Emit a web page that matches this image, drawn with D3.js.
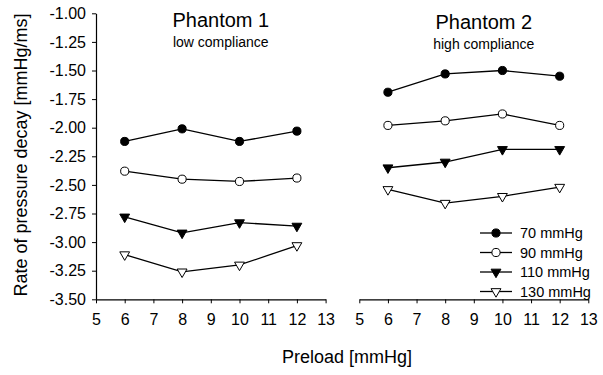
<!DOCTYPE html>
<html>
<head>
<meta charset="utf-8">
<script src="https://cdn.jsdelivr.net/npm/d3@7"></script>
<style>
  body { margin: 0; background: #fff; }
  text { font-family: "Liberation Sans", Arial, sans-serif; fill: #000; }
</style>
</head>
<body>
<div class="chart"></div>
<script>
// data
const preload = [6, 8, 10, 12]
const seriesNames = ['70 mmHg', '90 mmHg', '110 mmHg', '130 mmHg']

const phantom1 = [
  [-2.12, -2.01, -2.12, -2.03],
  [-2.38, -2.45, -2.47, -2.44],
  [-2.78, -2.92, -2.83, -2.86],
  [-3.11, -3.26, -3.20, -3.03]
]
const phantom2 = [
  [-1.69, -1.53, -1.50, -1.55],
  [-1.98, -1.94, -1.88, -1.98],
  [-2.35, -2.30, -2.19, -2.19],
  [-2.54, -2.66, -2.60, -2.52]
]
const yTicks = [-1.00, -1.25, -1.50, -1.75, -2.00, -2.25, -2.50, -2.75, -3.00, -3.25, -3.50]
const xTicks = [5, 6, 7, 8, 9, 10, 11, 12, 13]

const width = 603, height = 375

const svg = d3.select(".chart")
  .append("svg")
    .attr("width", width)
    .attr("height", height)

const y = d3.scaleLinear().domain([-3.5, -1]).range([299.3, 13.3])

// marker styles: filled circle, open circle, filled triangle down, open triangle down
const markers = [
  {type: d3.symbolCircle, size: 52, fill: "#000"},
  {type: d3.symbolCircle, size: 52, fill: "#fff"},
  {type: d3.symbolTriangle, size: 42, fill: "#000"},
  {type: d3.symbolTriangle, size: 42, fill: "#fff"}
]

function drawPanel(data, x0, x1, title, subtitle, titleY, withYAxis) {
  const x = d3.scaleLinear().domain([5, 13]).range([x0, x1])
  const g = svg.append("g")

  const xAxis = g.append("g")
    .attr("transform", `translate(0,${y(-3.5)})`)
    .call(d3.axisBottom(x).tickValues(xTicks).tickSize(4).tickSizeOuter(0).tickPadding(10))
  xAxis.select(".domain").attr("stroke", "#000").attr("stroke-width", 1.2)
  xAxis.selectAll("text").attr("font-size", 16).attr("font-family", "Liberation Sans, Arial, sans-serif")

  if (withYAxis) {
    const yAxis = g.append("g")
      .attr("transform", `translate(${x0},0)`)
      .call(d3.axisLeft(y).tickValues(yTicks).tickFormat(d3.format(".2f")).tickSize(4).tickSizeOuter(0).tickPadding(6))
    yAxis.select(".domain").attr("stroke", "#000").attr("stroke-width", 1.2)
    yAxis.selectAll("text").attr("font-size", 16).attr("font-family", "Liberation Sans, Arial, sans-serif")
      .text(d => d3.format(".2f")(d).replace("−", "-"))
  }

  const line = d3.line().x((d, i) => x(preload[i])).y(d => y(d))

  data.forEach((vals, s) => {
    g.append("path")
      .attr("d", line(vals))
      .attr("fill", "none")
      .attr("stroke", "#000")
      .attr("stroke-width", 1.3)
    g.selectAll(null)
      .data(vals)
      .join("path")
        .attr("d", d3.symbol(markers[s].type, markers[s].size))
        .attr("transform", (d, i) => `translate(${x(preload[i])},${y(d)})` + (s >= 2 ? " rotate(180)" : ""))
        .attr("fill", markers[s].fill)
        .attr("stroke", "#000")
        .attr("stroke-width", 1)
  })

  const cx = (x0 + x1) / 2 + 10
  g.append("text")
    .attr("x", cx).attr("y", titleY)
    .attr("text-anchor", "middle")
    .attr("font-size", 20)
    .text(title)
  g.append("text")
    .attr("x", cx).attr("y", titleY + 20)
    .attr("text-anchor", "middle")
    .attr("font-size", 14)
    .text(subtitle)
  return x
}

drawPanel(phantom1, 96, 325.6, "Phantom 1", "low compliance", 27, true)
drawPanel(phantom2, 359.3, 588.3, "Phantom 2", "high compliance", 29, false)

// legend
const legend = svg.append("g")
seriesNames.forEach((name, s) => {
  const ly = 233 + s * 19.5
  legend.append("line")
    .attr("x1", 480).attr("x2", 512).attr("y1", ly).attr("y2", ly)
    .attr("stroke", "#000").attr("stroke-width", 1.3)
  legend.append("path")
    .attr("d", d3.symbol(markers[s].type, markers[s].size))
    .attr("transform", `translate(496,${ly})` + (s >= 2 ? " rotate(180)" : ""))
    .attr("fill", markers[s].fill)
    .attr("stroke", "#000")
    .attr("stroke-width", 1)
  legend.append("text")
    .attr("x", 520).attr("y", ly + 5)
    .attr("font-size", 14.5)
    .text(name)
})

// axis titles
svg.append("text")
  .attr("x", 347).attr("y", 363)
  .attr("text-anchor", "middle")
  .attr("font-size", 18)
  .text("Preload [mmHg]")

svg.append("text")
  .attr("transform", "translate(27,155) rotate(-90)")
  .attr("text-anchor", "middle")
  .attr("font-size", 18)
  .text("Rate of pressure decay [mmHg/ms]")
</script>
</body>
</html>
